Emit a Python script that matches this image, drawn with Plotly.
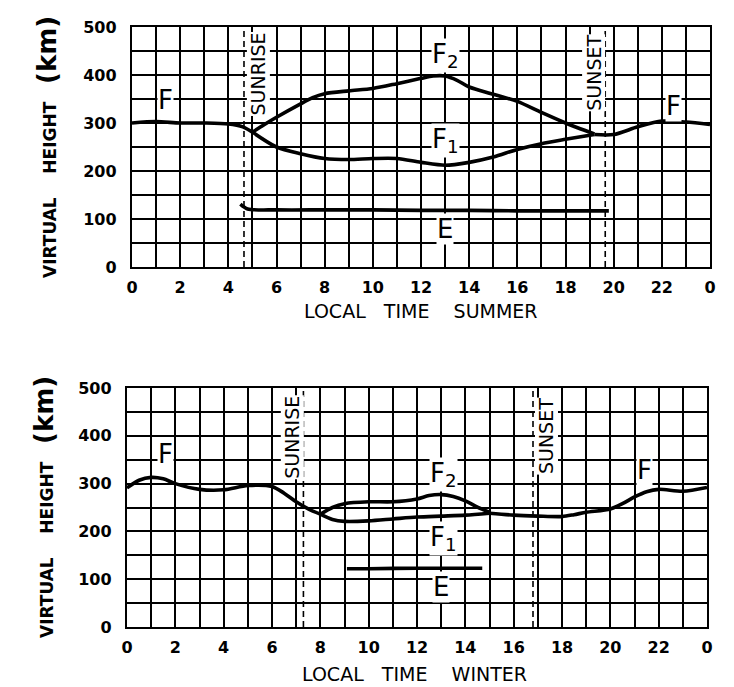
import plotly.graph_objects as go

# ---------------- data ----------------
# Summer
summer_F_morning_x = [0, 1, 2, 3, 4, 4.6, 5.0]
summer_F_morning_y = [300, 303, 300, 300, 298, 292, 281]
summer_F2_x = [5.0, 5.5, 6, 7, 7.5, 8, 9, 10, 11, 12, 12.5, 13, 13.5, 14, 15, 16, 17, 18, 18.5, 19.2]
summer_F2_y = [281, 297, 312, 340, 353, 361, 367, 372, 382, 393, 398, 398, 389, 375, 360, 345, 322, 300, 290, 277]
summer_F1_x = [5.0, 6, 7, 8, 9, 10, 11, 12, 13, 14, 15, 16, 17, 18, 19.2]
summer_F1_y = [281, 250, 236, 226, 224, 226, 226, 218, 212, 218, 229, 245, 257, 266, 276]
summer_F_evening_x = [19.2, 20, 21, 22, 23, 24]
summer_F_evening_y = [276, 276, 292, 304, 302, 297]
summer_E_x = [4.5, 4.8, 6, 8, 10, 12, 14, 16, 18, 19.8]
summer_E_y = [131, 121, 119, 119, 119, 118, 118, 117, 117, 117]
summer_sun_times = [4.65, 19.65]

# Winter
winter_F_morning_x = [0, 0.5, 1, 1.5, 2, 3, 4, 5, 6, 6.5, 7, 7.5, 8]
winter_F_morning_y = [291, 307, 313, 310, 300, 288, 287, 296, 294, 280, 262, 247, 236]
winter_F2_x = [8, 8.5, 9, 10, 11, 12, 12.5, 13, 13.5, 14, 14.5, 15]
winter_F2_y = [236, 250, 258, 262, 262, 268, 275, 277, 273, 264, 251, 240]
winter_F1_x = [8, 8.5, 9, 10, 11, 12, 13, 14, 15]
winter_F1_y = [236, 225, 221, 222, 226, 230, 232, 234, 238]
winter_F_evening_x = [15, 16, 17, 18, 18.5, 19, 20, 20.5, 21, 21.5, 22, 23, 24]
winter_F_evening_y = [238, 234, 232, 231, 235, 240, 247, 258, 272, 283, 288, 284, 292]
winter_E_x = [9.1, 10, 12, 14, 14.7]
winter_E_y = [122, 122, 123, 123, 123]
winter_sun_times = [7.3, 16.8]

hour_ticks = list(range(0, 25, 2))
hour_labels = ["0", "2", "4", "6", "8", "10", "12", "14", "16", "18", "20", "22", "0"]
height_ticks = [0, 100, 200, 300, 400, 500]
height_labels = ["0", "100", "200", "300", "400", "500"]

# ---------------- figure ----------------
OFF = 8                      # page body margin
W, H = 734 - OFF, 687 - OFF  # figure size so it ends at the window edges


def px(xp):
    return (xp - OFF) / W


def py(yp):
    return 1 - (yp - OFF) / H


fig = go.Figure()

LINE = dict(color="black", width=3.6, shape="spline", smoothing=0.8)


def add_curves(xs_ys, xa, ya):
    for xs, ys in xs_ys:
        fig.add_trace(go.Scatter(x=xs, y=ys, mode="lines", line=LINE,
                                 xaxis=xa, yaxis=ya, showlegend=False, hoverinfo="skip"))


add_curves([(summer_F_morning_x, summer_F_morning_y), (summer_F2_x, summer_F2_y),
            (summer_F1_x, summer_F1_y), (summer_F_evening_x, summer_F_evening_y),
            (summer_E_x, summer_E_y)], "x", "y")
add_curves([(winter_F_morning_x, winter_F_morning_y), (winter_F2_x, winter_F2_y),
            (winter_F1_x, winter_F1_y), (winter_F_evening_x, winter_F_evening_y),
            (winter_E_x, winter_E_y)], "x2", "y2")

for t in summer_sun_times:
    fig.add_trace(go.Scatter(x=[t, t], y=[0, 500], mode="lines",
                             line=dict(color="black", width=1.6, dash="6px,4px"),
                             xaxis="x", yaxis="y", showlegend=False, hoverinfo="skip"))
for t in winter_sun_times:
    fig.add_trace(go.Scatter(x=[t, t], y=[0, 500], mode="lines",
                             line=dict(color="black", width=1.6, dash="6px,4px"),
                             xaxis="x2", yaxis="y2", showlegend=False, hoverinfo="skip"))

TICKFONT = dict(family="DejaVu Sans", size=16, color="black", weight="bold")


def xaxis_cfg(domain, anchor):
    return dict(domain=domain, anchor=anchor, range=[0, 24], tickmode="array",
                tickvals=hour_ticks, ticktext=hour_labels, ticks="",
                showgrid=True, gridcolor="black", gridwidth=2,
                minor=dict(dtick=1, showgrid=True, gridcolor="black", gridwidth=2, ticks=""),
                showline=True, linecolor="black", linewidth=2.4, mirror=True,
                zeroline=False, tickfont=TICKFONT, ticklabelstandoff=5,
                automargin=False, fixedrange=True)


def yaxis_cfg(domain, anchor):
    return dict(domain=domain, anchor=anchor, range=[0, 500], tickmode="array",
                tickvals=height_ticks, ticktext=height_labels, ticks="",
                showgrid=True, gridcolor="black", gridwidth=2,
                minor=dict(dtick=50, showgrid=True, gridcolor="black", gridwidth=2, ticks=""),
                showline=True, linecolor="black", linewidth=2.4, mirror=True,
                zeroline=False, tickfont=TICKFONT, ticklabelstandoff=10,
                automargin=False, fixedrange=True)


top_x = [px(132), px(710)]
top_y = [py(267), py(27)]
bot_x = [px(127), px(707)]
bot_y = [py(627), py(388)]

fig.update_layout(
    width=W, height=H,
    margin=dict(l=0, r=0, t=0, b=0, autoexpand=False),
    paper_bgcolor="white", plot_bgcolor="white",
    xaxis=xaxis_cfg(top_x, "y"), yaxis=yaxis_cfg(top_y, "x"),
    xaxis2=xaxis_cfg(bot_x, "y2"), yaxis2=yaxis_cfg(bot_y, "x2"),
    showlegend=False,
)

LBL = dict(family="DejaVu Sans", size=26, color="black")
SUNF = dict(family="DejaVu Sans", size=19, color="black")


def label(text, x, y, xa, ya, font=LBL, angle=0):
    fig.add_annotation(text=text, x=x, y=y, xref=xa, yref=ya, showarrow=False,
                       xanchor="center", yanchor="middle",
                       font=font, bgcolor="white", borderpad=0, textangle=angle)


# summer labels
label("F", 1.4, 348, "x", "y")
label("F<sub>2</sub>", 13.0, 440, "x", "y")
label("F<sub>1</sub>", 13.0, 264, "x", "y")
label("E", 13.0, 80, "x", "y")
label("F", 22.5, 336, "x", "y")
label("SUNRISE", 5.25, 402, "x", "y", SUNF, -90)
label("SUNSET", 19.15, 405, "x", "y", SUNF, -90)
# winter labels
label("F", 1.6, 362, "x2", "y2")
label("F<sub>2</sub>", 13.1, 320, "x2", "y2")
label("F<sub>1</sub>", 13.1, 186, "x2", "y2")
label("E", 13.0, 84, "x2", "y2")
label("F", 21.4, 328, "x2", "y2")
label("SUNRISE", 6.85, 397, "x2", "y2", SUNF, -90)
label("SUNSET", 17.35, 400, "x2", "y2", SUNF, -90)

# axis titles
TITLEF = dict(family="DejaVu Sans", size=17, color="black", weight="bold")
ytitle = "VIRTUAL    HEIGHT   <span style='font-size:26px'>(km)</span>"
fig.add_annotation(text=ytitle, x=px(47), y=py(147), xref="paper", yref="paper",
                   xanchor="center", yanchor="middle",
                   showarrow=False, textangle=-90, font=TITLEF)
fig.add_annotation(text=ytitle, x=px(44), y=py(507), xref="paper", yref="paper",
                   xanchor="center", yanchor="middle",
                   showarrow=False, textangle=-90, font=TITLEF)
XTF = dict(family="DejaVu Sans", size=19, color="black")
fig.add_annotation(text="LOCAL   TIME    SUMMER", x=px(421), y=py(311), xref="paper", yref="paper",
                   xanchor="center", yanchor="middle", showarrow=False, font=XTF)
fig.add_annotation(text="LOCAL   TIME    WINTER", x=px(414), y=py(674), xref="paper", yref="paper",
                   xanchor="center", yanchor="middle", showarrow=False, font=XTF)

fig.write_html("out.html")
